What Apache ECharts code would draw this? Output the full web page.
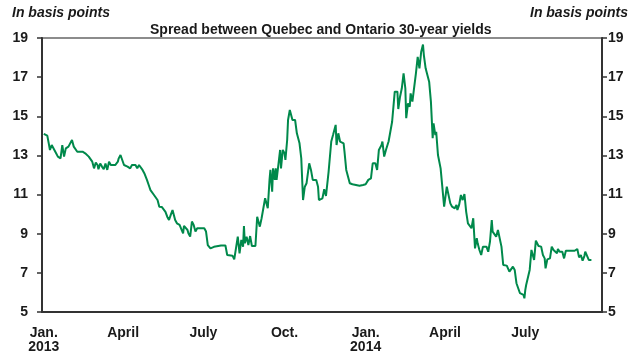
<!DOCTYPE html>
<html>
<head>
<meta charset="utf-8">
<script src="https://cdn.jsdelivr.net/npm/echarts@6/dist/echarts.min.js"></script>
<style>
  html, body { margin: 0; padding: 0; background: #fff; }
  #chart { width: 635px; height: 354px; }
</style>
</head>
<body>
<div id="chart"></div>
<script>
// Quebec minus Ontario 30-year yield spread, basis points
const dates = [
  '2013-01-01','2013-01-05','2013-01-07','2013-01-08','2013-01-10','2013-01-12','2013-01-15','2013-01-17','2013-01-19','2013-01-20',
  '2013-01-22','2013-01-24','2013-01-26','2013-01-29','2013-01-31','2013-02-02','2013-02-04','2013-02-06','2013-02-08','2013-02-10',
  '2013-02-14','2013-02-17','2013-02-19','2013-02-21','2013-02-23','2013-02-25','2013-02-27','2013-03-01','2013-03-03','2013-03-04',
  '2013-03-06','2013-03-08','2013-03-10','2013-03-12','2013-03-14','2013-03-16','2013-03-18','2013-03-20','2013-03-23','2013-03-26',
  '2013-03-27','2013-03-29','2013-03-31','2013-04-02','2013-04-04','2013-04-06','2013-04-08','2013-04-09','2013-04-11','2013-04-15',
  '2013-04-17','2013-04-19','2013-04-21','2013-04-23','2013-04-25','2013-04-27','2013-04-28','2013-04-30','2013-05-02','2013-05-04',
  '2013-05-06','2013-05-08','2013-05-10','2013-05-12','2013-05-15','2013-05-17','2013-05-19','2013-05-21','2013-05-23','2013-05-25',
  '2013-05-27','2013-05-29','2013-05-30','2013-05-31','2013-06-01','2013-06-03','2013-06-04','2013-06-06','2013-06-08','2013-06-09',
  '2013-06-11','2013-06-13','2013-06-14','2013-06-16','2013-06-18','2013-06-20','2013-06-22','2013-06-24','2013-07-02','2013-07-04',
  '2013-07-06','2013-07-09','2013-07-13','2013-07-15','2013-07-21','2013-07-23','2013-07-26','2013-07-28','2013-08-03','2013-08-05',
  '2013-08-07','2013-08-09','2013-08-11','2013-08-13','2013-08-15','2013-08-16','2013-08-17','2013-08-19','2013-08-21','2013-08-23',
  '2013-08-25','2013-08-29','2013-08-31','2013-09-02','2013-09-03','2013-09-05','2013-09-07','2013-09-09','2013-09-11','2013-09-12',
  '2013-09-14','2013-09-15','2013-09-17','2013-09-18','2013-09-20','2013-09-21','2013-09-22','2013-09-24','2013-09-26','2013-09-27',
  '2013-09-29','2013-10-01','2013-10-02','2013-10-04','2013-10-05','2013-10-07','2013-10-09','2013-10-10','2013-10-13','2013-10-15',
  '2013-10-18','2013-10-20','2013-10-21','2013-10-22','2013-10-24','2013-10-26','2013-10-29','2013-10-31','2013-11-02','2013-11-06',
  '2013-11-08','2013-11-09','2013-11-11','2013-11-13','2013-11-15','2013-11-17','2013-11-19','2013-11-20','2013-11-22','2013-11-23',
  '2013-11-25','2013-11-28','2013-11-29','2013-12-01','2013-12-03','2013-12-07','2013-12-08','2013-12-10','2013-12-12','2013-12-14',
  '2013-12-17','2013-12-21','2013-12-25','2013-12-29',
  '2014-01-01','2014-01-03','2014-01-04','2014-01-07','2014-01-09','2014-01-12','2014-01-14','2014-01-16','2014-01-19','2014-01-20',
  '2014-01-22','2014-01-24','2014-01-26','2014-01-27','2014-01-29','2014-01-31','2014-02-02','2014-02-03','2014-02-06','2014-02-07',
  '2014-02-09','2014-02-11','2014-02-13','2014-02-15','2014-02-16','2014-02-18','2014-02-20','2014-02-21','2014-02-23','2014-02-25',
  '2014-02-27','2014-03-01','2014-03-03','2014-03-05','2014-03-07','2014-03-08','2014-03-10','2014-03-12','2014-03-14','2014-03-16',
  '2014-03-18','2014-03-19','2014-03-21','2014-03-22','2014-03-24','2014-03-27','2014-03-29','2014-03-31','2014-04-03','2014-04-05',
  '2014-04-07','2014-04-09','2014-04-12','2014-04-14','2014-04-15','2014-04-17','2014-04-19','2014-04-21','2014-04-23','2014-04-25',
  '2014-04-27','2014-04-29','2014-05-01','2014-05-03','2014-05-05','2014-05-07','2014-05-08','2014-05-10','2014-05-12','2014-05-14',
  '2014-05-18','2014-05-20','2014-05-22','2014-05-24','2014-05-25','2014-05-27','2014-05-29','2014-05-31','2014-06-02','2014-06-04',
  '2014-06-06','2014-06-10','2014-06-11','2014-06-13','2014-06-15','2014-06-17','2014-06-19','2014-06-21','2014-06-23','2014-06-25',
  '2014-06-27','2014-06-29','2014-06-30','2014-07-01','2014-07-02','2014-07-04','2014-07-06','2014-07-08','2014-07-10','2014-07-11',
  '2014-07-13','2014-07-15','2014-07-16','2014-07-19','2014-07-21','2014-07-23','2014-07-24','2014-07-26','2014-07-29','2014-07-31',
  '2014-08-02','2014-08-04','2014-08-06','2014-08-07','2014-08-09','2014-08-10','2014-08-12','2014-08-14','2014-08-16','2014-08-21',
  '2014-08-26','2014-08-29','2014-08-31','2014-09-02','2014-09-04','2014-09-06','2014-09-07','2014-09-09','2014-09-11','2014-09-14'
];
const spread = [
  14.10,14.01,13.53,13.28,13.53,13.45,13.11,12.94,13.02,12.85,
  13.53,12.94,13.36,13.45,13.53,13.79,13.45,13.36,13.19,13.28,
  13.19,13.11,13.19,12.94,13.02,12.68,12.34,12.63,12.51,12.29,
  12.59,12.43,12.29,12.59,12.26,12.68,12.51,12.59,12.51,12.68,
  12.85,13.02,13.11,12.51,12.59,12.43,12.51,12.34,12.51,12.51,
  12.34,12.51,12.43,12.26,12.09,12.00,11.75,11.49,11.23,11.32,
  10.98,10.89,10.72,10.38,10.36,10.30,10.12,9.87,9.70,9.96,
  10.21,10.21,9.70,9.79,9.53,9.62,9.45,9.45,9.02,9.40,
  9.45,9.19,9.02,8.85,9.62,9.45,9.11,9.28,9.28,9.11,
  8.42,8.25,8.33,8.40,8.40,8.45,8.40,7.91,7.88,7.69,
  7.66,8.85,8.00,8.68,8.34,9.39,8.51,8.85,8.42,8.88,
  8.37,8.37,9.87,9.79,9.36,9.79,9.82,10.81,10.81,10.30,
  11.75,12.26,11.15,12.34,11.75,12.34,11.75,12.51,13.28,12.34,
  13.28,13.11,12.77,13.79,14.81,15.32,15.32,14.81,14.81,14.13,
  13.62,12.85,12.77,10.72,11.40,11.58,12.60,12.26,11.75,11.75,
  11.40,10.72,10.72,10.81,11.27,10.93,11.75,12.17,12.26,13.71,
  14.04,14.56,13.53,14.13,13.71,13.62,13.19,12.26,12.34,11.58,
  11.53,11.49,11.45,11.49,
  11.53,11.45,11.75,11.83,12.60,12.60,12.26,13.28,13.53,13.71,
  12.94,13.28,13.28,13.71,13.68,14.72,15.75,16.26,16.26,15.37,
  16.00,16.43,17.19,16.43,14.90,15.66,15.49,16.17,15.75,15.66,
  17.19,18.04,17.45,18.30,18.67,18.13,17.45,17.45,16.77,15.75,
  13.88,14.64,14.04,14.21,13.02,12.34,12.26,10.38,11.40,11.32,
  10.55,10.38,10.30,10.47,10.21,10.47,10.98,10.72,11.03,10.12,
  9.53,9.45,9.28,9.79,8.25,8.77,8.51,8.17,7.91,8.34,
  8.34,8.08,8.60,9.70,9.11,9.11,8.85,9.19,9.16,8.34,
  7.40,7.37,7.32,7.06,7.06,7.32,7.15,6.47,6.47,5.96,
  5.96,5.87,5.70,6.12,6.38,6.38,7.15,8.17,8.17,7.66,
  8.65,8.68,8.37,8.34,7.91,7.74,7.23,7.69,7.74,8.34,
  8.17,8.17,8.00,8.22,8.08,8.00,8.08,7.74,8.13,8.13,
  8.13,8.22,7.79,7.91,7.62,7.86,8.08,8.08,7.66,7.66
];

// Quarter labels on the date axis
const tickDates = ['2013-01-01','2013-04-01','2013-07-01','2013-10-01','2014-01-01','2014-04-01','2014-07-01'];
const tickLabels = ['Jan.\n2013','April','July','Oct.','Jan.\n2014','April','July'];
const axisStart = '2012-12-30';
const axisEnd = '2014-09-26';

const yMin = 5, yMax = 19, yStep = 2;

const origin = Date.UTC(2013, 0, 1);
const dayOf = s => (Date.parse(s) - origin) / 86400000;

const seriesData = dates.map((d, i) => [dayOf(d), spread[i]]);
const tickDays = tickDates.map(dayOf);
const labelByDay = {};
tickDays.forEach((d, i) => { labelByDay[d] = tickLabels[i]; });

const FONT = '"Liberation Sans", Arial, Helvetica, sans-serif';
const INK = '#1a1a1a';

const yAxisBase = {
  type: 'value',
  min: yMin, max: yMax, interval: yStep,
  splitLine: { show: false },
  axisLine: { show: true, onZero: false, lineStyle: { color: '#333', width: 2 } },
  axisTick: { show: true, inside: false, length: 5, lineStyle: { color: '#333', width: 1.5 } },
  axisLabel: { color: INK, fontFamily: FONT, fontWeight: 'bold', fontSize: 14 }
};

const chart = echarts.init(document.getElementById('chart'), null, { renderer: 'canvas' });
chart.setOption({
  animation: false,
  backgroundColor: '#fff',
  title: {
    text: 'Spread between Quebec and Ontario 30-year yields',
    left: 150, top: 23, padding: 0,
    textStyle: { color: INK, fontFamily: FONT, fontWeight: 'bold', fontSize: 14 }
  },
  grid: {
    left: 42, right: 33, top: 38, bottom: 42,
    show: true, borderColor: '#8c8c8c', borderWidth: 2, backgroundColor: 'transparent'
  },
  graphic: [
    { type: 'text', left: 12, top: 6,
      style: { text: 'In basis points', fill: INK, font: 'italic bold 14px ' + FONT } },
    { type: 'text', right: 7, top: 6,
      style: { text: 'In basis points', fill: INK, font: 'italic bold 14px ' + FONT } }
  ],
  xAxis: {
    type: 'value',
    min: dayOf(axisStart), max: dayOf(axisEnd),
    splitLine: { show: false },
    axisLine: { show: true, onZero: false, lineStyle: { color: '#333', width: 2 } },
    axisTick: { show: false },
    axisLabel: {
      customValues: tickDays,
      formatter: v => labelByDay[v] || '',
      color: INK, fontFamily: FONT, fontWeight: 'bold', fontSize: 14,
      lineHeight: 14, margin: 14
    }
  },
  yAxis: [
    Object.assign({}, yAxisBase, { position: 'left',
      axisLabel: Object.assign({}, yAxisBase.axisLabel, { margin: 14 }) }),
    Object.assign({}, yAxisBase, { position: 'right',
      axisLabel: Object.assign({}, yAxisBase.axisLabel, { margin: 6 }) })
  ],
  series: [{
    type: 'line',
    yAxisIndex: 0,
    data: seriesData,
    showSymbol: false,
    lineStyle: { color: '#00894b', width: 2 },
    itemStyle: { color: '#00894b' }
  }]
});
</script>
</body>
</html>
